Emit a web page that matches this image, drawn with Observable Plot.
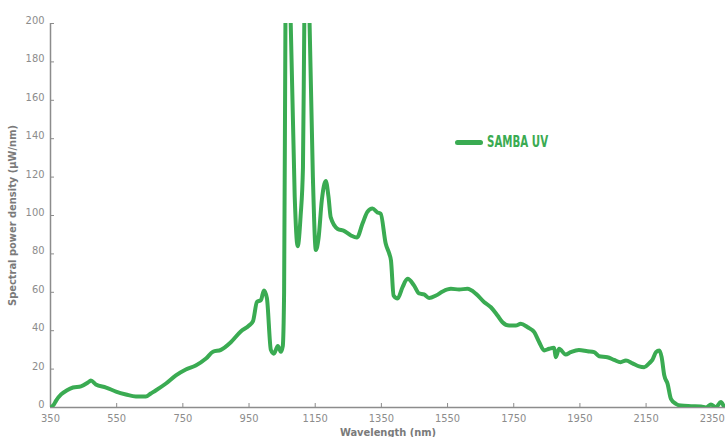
<!DOCTYPE html>
<html>
<head>
<meta charset="utf-8">
<script src="https://cdn.jsdelivr.net/npm/d3@7"></script>
<script src="https://cdn.jsdelivr.net/npm/@observablehq/plot@0.6"></script>
<style>
  html, body { margin: 0; padding: 0; background: #fff; }
  #wrap { position: relative; width: 726px; height: 437px; overflow: hidden; }
  #wrap svg text { font-stretch: condensed; }
  #legend { position: absolute; left: 455px; top: 133px; display: flex; align-items: center;
    font-family: "DejaVu Sans Condensed", "DejaVu Sans", sans-serif; font-stretch: condensed; font-weight: bold;
    font-size: 15px; color: #3aab52; }
  #legend .sw { width: 28px; height: 5px; border-radius: 3px; background: #3aab52; margin-right: 4px; }
  #legend .lbl { display: inline-block; transform: scaleX(0.76); transform-origin: left center; }
</style>
</head>
<body>
<div id="wrap"><div id="legend"><span class="sw"></span><span class="lbl">SAMBA UV</span></div></div>
<script>
const seriesName = "SAMBA UV";
const wavelength = [350,360,367,382,400,418,442,463,472,487,518,548,578,608,638,653,669,699,729,759,789,820,841,865,895,925,950,962,974,986,995,1004,1016,1025,1037,1046,1052,1056,1060,1067,1076,1088,1097,1106,1113,1117,1125,1133,1143,1152,1160,1170,1182,1190,1197,1218,1237,1258,1276,1293,1308,1323,1338,1348,1363,1374,1379,1387,1399,1414,1429,1449,1464,1479,1494,1515,1535,1560,1585,1610,1636,1661,1681,1701,1716,1736,1756,1771,1792,1812,1827,1842,1857,1872,1877,1887,1907,1922,1947,1973,1993,2008,2033,2053,2073,2089,2109,2129,2144,2159,2169,2180,2190,2197,2205,2215,2225,2240,2255,2286,2316,2331,2346,2361,2376,2386];
const spd = [0,1.5,3.6,6.8,9,10.4,11,13,14,12,10.4,8.3,6.8,5.7,5.7,7.3,9,12.5,16.7,19.8,21.9,25.5,29,30,34,39.6,42.7,45,55,56,61,57,30,28,32,29,32,60,200,300,200,110,84,100,125,200,290,200,120,82,88,108,118,110,99,93,92,89.6,88.5,95.8,102,103.6,101.6,100.9,85.4,80,76.6,58.3,56.8,62.7,67,63.5,59.4,58.9,57,58.3,60.4,61.8,61.5,61.8,59.2,54.8,52.2,47.9,44.4,42.7,42.7,43.6,41.8,39.2,34,29.7,30.6,31.1,26.2,30.6,27.6,28.8,30,29.3,28.8,26.7,26.2,24.8,23.6,24.5,23,21.4,21,23,24.8,28.8,29.7,26.2,16.7,12.3,4.5,1.9,1,0.7,0.5,0,1.5,0.2,2.8,0.2];
const xTicks = [350,550,750,950,1150,1350,1550,1750,1950,2150,2350];
const yTicks = [0,20,40,60,80,100,120,140,160,180,200];

const data = wavelength.map((w, i) => ({w, v: spd[i]}));
const green = "#3aab52";
const grey = "#8c8c8c";
const font = "'DejaVu Sans Condensed', 'DejaVu Sans', sans-serif";

const chart = Plot.plot({
  width: 726,
  height: 437,
  marginLeft: 50,
  marginRight: 1,
  marginTop: 23,
  marginBottom: 30,
  style: {fontFamily: font, fontSize: "11px", color: grey, background: "#fff"},
  x: {domain: [350, 2390]},
  y: {domain: [0, 200]},
  marks: [
    Plot.axisX({ticks: xTicks, tickFormat: d => String(d), tickSize: -4, tickPadding: 11, stroke: grey, fill: grey,
      label: "Wavelength (nm)", labelAnchor: "center", labelArrow: "none", labelOffset: 28, fontSize: 11}),
    Plot.axisY({ticks: yTicks, tickSize: -4, text: null, stroke: grey, label: null}),
    Plot.axisY({ticks: yTicks, tickSize: 0, tickPadding: 6, dy: -3, fill: grey,
      label: "Spectral power density (µW/nm)", labelAnchor: "center", labelArrow: "none", labelOffset: 42, fontSize: 11}),
    Plot.ruleY([0], {stroke: grey, strokeWidth: 1.5}),
    Plot.ruleX([350], {stroke: grey, strokeWidth: 1.5}),
    Plot.line(data, {x: "w", y: "v", stroke: green, strokeWidth: 4, curve: "monotone-x", clip: true,
      strokeLinejoin: "round", strokeLinecap: "round"})
  ]
});
chart.querySelectorAll("g[aria-label='x-axis label'] text, g[aria-label='y-axis label'] text").forEach(t => {
  t.setAttribute("font-weight", "bold");
  t.setAttribute("fill", "#7a7a7a");
});
document.getElementById("wrap").prepend(chart);
</script>
</body>
</html>
